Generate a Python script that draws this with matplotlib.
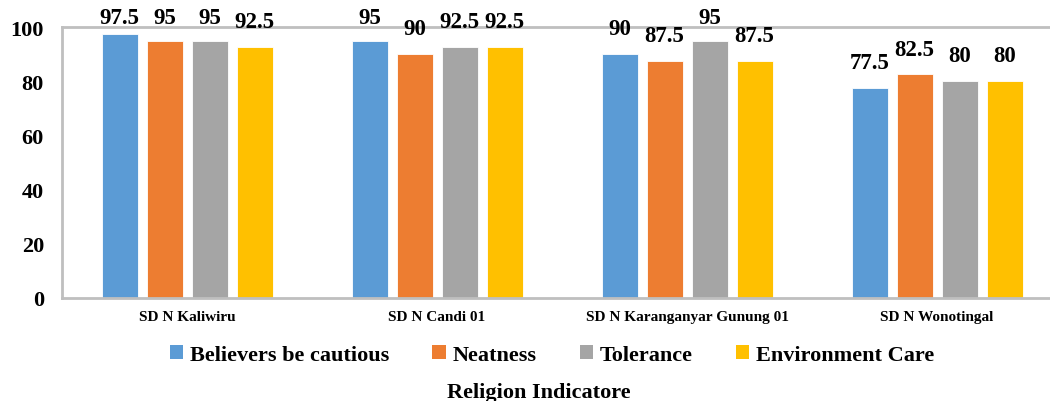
import numpy as np
import matplotlib
matplotlib.use('Agg')
import matplotlib.pyplot as plt
from matplotlib.patches import Patch

schools = ['SD N Kaliwiru', 'SD N Candi 01', 'SD N Karanganyar Gunung 01', 'SD N Wonotingal']
series_names = ['Believers be cautious', 'Neatness', 'Tolerance', 'Environment Care']
believers = [97.5, 95, 90, 77.5]
neatness = [95, 90, 87.5, 82.5]
tolerance = [95, 92.5, 95, 80]
environment = [92.5, 92.5, 87.5, 80]
colors = ['#5B9BD5', '#ED7D31', '#A5A5A5', '#FFC000']
yticks = [0, 20, 40, 60, 80, 100]

plt.rcParams['font.family'] = ['Liberation Serif', 'DejaVu Serif']
plt.rcParams['font.weight'] = 'bold'

fig = plt.figure(figsize=(10.5, 4.02), dpi=100)
ax = fig.add_axes([62 / 1050, 103 / 402, 1000 / 1050, 271 / 402])

x = np.arange(len(schools))
step = 0.18
width = 0.144
all_series = [believers, neatness, tolerance, environment]
for i, (vals, c) in enumerate(zip(all_series, colors)):
    pos = x + (i - 1.5) * step
    ax.bar(pos, vals, width=width, color=c, edgecolor='white', linewidth=0.6, zorder=2)
    for p, v in zip(pos, vals):
        # label sits above the bar, kept inside the top of the plot
        ax.text(p, min(v + 5.5, 99.6), f'{v:g}', ha='center', va='bottom',
                fontsize=16.5, fontweight='bold', color='black', clip_on=False)

ax.set_xlim(-0.5, 3.5)
ax.set_ylim(0, 100)
ax.set_yticks(yticks)
ax.set_yticklabels([str(t) for t in yticks], fontsize=16, fontweight='bold')
ax.set_xticks(x)
ax.set_xticklabels(schools, fontsize=11, fontweight='bold')
ax.tick_params(axis='y', length=0, pad=13)
ax.tick_params(axis='x', length=0, pad=9)

for s in ['left', 'top', 'bottom']:
    ax.spines[s].set_color('#BFBFBF')
    ax.spines[s].set_linewidth(2)
ax.spines['right'].set_visible(False)

handles = [Patch(facecolor=c, edgecolor='none') for c in colors]
fig.legend(handles, series_names, loc='center', bbox_to_anchor=(552 / 1050, 1 - 356 / 402),
           ncol=4, frameon=False, prop={'size': 16, 'weight': 'bold'},
           handlelength=0.6, handleheight=0.6, handletextpad=0.3, columnspacing=1.95)

fig.text(539 / 1050, 1 - 393 / 402, 'Religion Indicatore', ha='center', va='center',
         fontsize=16, fontweight='bold')

fig.savefig('out.png', dpi=100)
